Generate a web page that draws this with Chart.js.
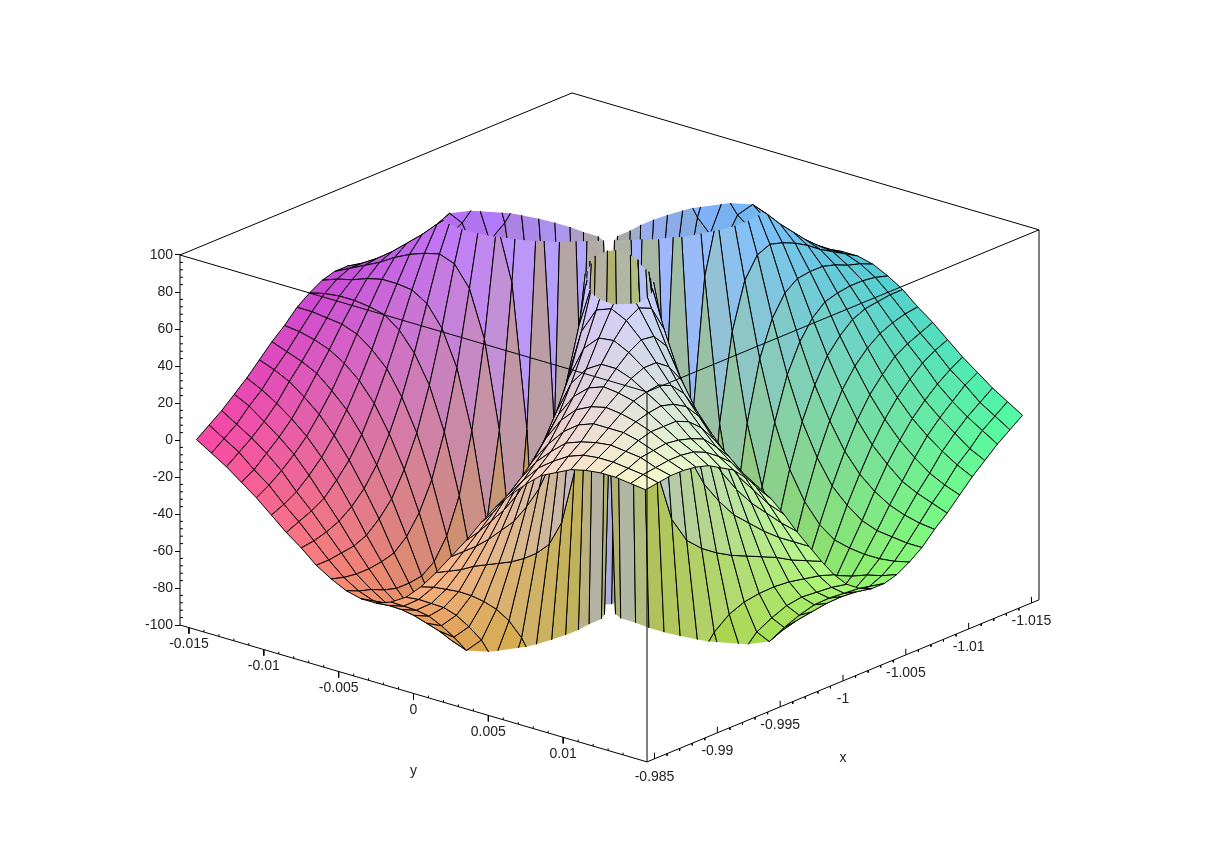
<!DOCTYPE html>
<html>
<head>
<meta charset="utf-8">
<script src="https://cdn.jsdelivr.net/npm/chart.js@4"></script>
<style>
  body { margin: 0; background: #fff; }
  canvas { display: block; }
</style>
</head>
<body>
<canvas id="surface" width="1220" height="855"></canvas>
<script>
// Surface samples: one row per x value, one column per y value
const xValues = [-0.985,-0.986,-0.987,-0.988,-0.989,-0.99,-0.991,-0.992,-0.993,-0.994,-0.995,-0.996,-0.997,-0.998,-0.999,-1,-1.001,-1.002,-1.003,-1.004,-1.005,-1.006,-1.007,-1.008,-1.009,-1.01,-1.011,-1.012,-1.013,-1.014,-1.015];
const yValues = [-0.015,-0.014,-0.013,-0.012,-0.011,-0.01,-0.009,-0.008,-0.007,-0.006,-0.005,-0.004,-0.003,-0.002,-0.001,0,0.001,0.002,0.003,0.004,0.005,0.006,0.007,0.008,0.009,0.01,0.011,0.012,0.013,0.014,0.015];
// Estimated heights. Values past +-100 run off the top or bottom of the box and get cut there.
const zRows = [
  [0,-5,-10,-16,-22,-29,-36,-42,-49,-54,-58,-60,-60,-57,-52,-44,-34,-23,-12,0,11,20,28,35,39,43,45,46,46,45,44],
  [5,0,-5,-12,-18,-26,-33,-41,-49,-56,-61,-64,-64,-62,-56,-47,-36,-23,-10,3,15,25,34,40,45,48,49,49,48,47,45],
  [10,5,0,-6,-13,-22,-30,-39,-48,-57,-63,-68,-69,-67,-61,-51,-38,-23,-7,8,21,32,40,47,50,52,53,52,51,48,46],
  [16,12,6,0,-7,-16,-26,-36,-47,-57,-66,-72,-75,-73,-66,-55,-39,-22,-4,13,28,39,48,54,57,57,57,55,52,49,46],
  [22,18,13,7,0,-9,-19,-31,-44,-56,-68,-77,-82,-81,-73,-60,-41,-20,1,21,37,49,57,61,63,62,60,57,53,49,45],
  [29,26,22,16,9,0,-11,-24,-38,-54,-68,-81,-89,-90,-82,-66,-43,-18,8,30,47,59,66,69,68,66,62,57,52,48,43],
  [36,33,30,26,19,11,0,-14,-30,-48,-67,-84,-97,-100,-92,-73,-45,-13,18,43,61,71,76,76,73,68,63,57,50,45,39],
  [42,41,39,36,31,24,14,0,-17,-38,-62,-86,-104,-113,-106,-82,-46,-6,31,59,77,85,86,82,76,69,61,54,47,40,35],
  [49,49,48,47,44,38,30,17,0,-23,-51,-83,-111,-128,-123,-94,-46,6,51,81,95,98,94,86,76,66,57,48,40,34,28],
  [54,56,57,57,56,54,48,38,23,0,-32,-72,-114,-145,-147,-110,-44,26,79,107,115,110,98,85,71,59,49,39,32,25,20],
  [58,61,63,66,68,68,67,62,51,32,0,-47,-107,-162,-179,-132,-35,60,118,137,132,115,95,77,61,47,37,28,21,15,11],
  [60,64,68,72,77,81,84,86,83,72,47,0,-77,-171,-225,-165,-11,118,169,165,137,107,81,59,43,30,21,13,8,3,0],
  [60,64,69,75,82,89,97,104,111,114,107,77,0,-144,-250,-219,53,214,219,169,118,79,51,31,18,8,1,-4,-7,-10,-12],
  [57,62,67,73,81,90,100,113,128,145,162,171,144,0,-250,-250,237,250,214,118,60,26,6,-6,-13,-18,-20,-22,-23,-23,-23],
  [52,56,61,66,73,82,92,106,123,147,179,225,250,250,0,-250,250,237,53,-11,-35,-44,-46,-46,-45,-43,-41,-39,-38,-36,-34],
  [44,47,51,55,60,66,73,82,94,110,132,165,219,250,250,0,-250,-250,-219,-165,-132,-110,-94,-82,-73,-66,-60,-55,-51,-47,-44],
  [34,36,38,39,41,43,45,46,46,44,35,11,-53,-237,-250,250,0,-250,-250,-225,-179,-147,-123,-106,-92,-82,-73,-66,-61,-56,-52],
  [23,23,23,22,20,18,13,6,-6,-26,-60,-118,-214,-250,-237,250,250,0,-144,-171,-162,-145,-128,-113,-100,-90,-81,-73,-67,-62,-57],
  [12,10,7,4,-1,-8,-18,-31,-51,-79,-118,-169,-219,-214,-53,219,250,144,0,-77,-107,-114,-111,-104,-97,-89,-82,-75,-69,-64,-60],
  [0,-3,-8,-13,-21,-30,-43,-59,-81,-107,-137,-165,-169,-118,11,165,225,171,77,0,-47,-72,-83,-86,-84,-81,-77,-72,-68,-64,-60],
  [-11,-15,-21,-28,-37,-47,-61,-77,-95,-115,-132,-137,-118,-60,35,132,179,162,107,47,0,-32,-51,-62,-67,-68,-68,-66,-63,-61,-58],
  [-20,-25,-32,-39,-49,-59,-71,-85,-98,-110,-115,-107,-79,-26,44,110,147,145,114,72,32,0,-23,-38,-48,-54,-56,-57,-57,-56,-54],
  [-28,-34,-40,-48,-57,-66,-76,-86,-94,-98,-95,-81,-51,-6,46,94,123,128,111,83,51,23,0,-17,-30,-38,-44,-47,-48,-49,-49],
  [-35,-40,-47,-54,-61,-69,-76,-82,-86,-85,-77,-59,-31,6,46,82,106,113,104,86,62,38,17,0,-14,-24,-31,-36,-39,-41,-42],
  [-39,-45,-50,-57,-63,-68,-73,-76,-76,-71,-61,-43,-18,13,45,73,92,100,97,84,67,48,30,14,0,-11,-19,-26,-30,-33,-36],
  [-43,-48,-52,-57,-62,-66,-68,-69,-66,-59,-47,-30,-8,18,43,66,82,90,89,81,68,54,38,24,11,0,-9,-16,-22,-26,-29],
  [-45,-49,-53,-57,-60,-62,-63,-61,-57,-49,-37,-21,-1,20,41,60,73,81,82,77,68,56,44,31,19,9,0,-7,-13,-18,-22],
  [-46,-49,-52,-55,-57,-57,-57,-54,-48,-39,-28,-13,4,22,39,55,66,73,75,72,66,57,47,36,26,16,7,0,-6,-12,-16],
  [-46,-48,-51,-52,-53,-52,-50,-47,-40,-32,-21,-8,7,23,38,51,61,67,69,68,63,57,48,39,30,22,13,6,0,-5,-10],
  [-45,-47,-48,-49,-49,-48,-45,-40,-34,-25,-15,-3,10,23,36,47,56,62,64,64,61,56,49,41,33,26,18,12,5,0,-5],
  [-44,-45,-46,-46,-45,-43,-39,-35,-28,-20,-11,0,12,23,34,44,52,57,60,60,58,54,49,42,36,29,22,16,10,5,0]
];

// Axis ticks
const zTicks = [-100,-80,-60,-40,-20,0,20,40,60,80,100];
const yTicks = [-0.015,-0.01,-0.005,0,0.005,0.01];
const yTickLabels = ['-0.015','-0.01','-0.005','0','0.005','0.01'];
const xTicks = [-0.985,-0.99,-0.995,-1,-1.005,-1.01,-1.015];
const xTickLabels = ['-0.985','-0.99','-0.995','-1','-1.005','-1.01','-1.015'];

// Box limits, a little wider than the surface
const xLow = -1.0156, xHigh = -0.9844;
const yLow = -0.0156, yHigh = 0.0156;
const zLow = -100, zHigh = 100;

// Oblique view: how far one box length along y or x moves a point across the chart
const acrossY = 467 / 859, acrossX = 392 / 859;
const liftY = -74, liftX = 87.6;

function project(x, y, z) {
    const u = (y - yLow) / (yHigh - yLow);
    const v = (xHigh - x) / (xHigh - xLow);
    return { x: u * acrossY + v * acrossX, y: z + u * liftY + v * liftX };
}

// Cut a cell at one z limit. A vertex's cut flag says the edge leaving it lies on the limit.
function cutAt(poly, limit, sign) {
    const out = [];
    poly.forEach((a, i) => {
        const b = poly[(i + 1) % poly.length];
        const aIn = sign * (a.z - limit) <= 0;
        const bIn = sign * (b.z - limit) <= 0;
        if (aIn !== bIn) {
            const t = (limit - a.z) / (b.z - a.z);
            out.push({ x: a.x + t * (b.x - a.x), y: a.y + t * (b.y - a.y), z: limit, cut: aIn ? true : a.cut });
        }
        if (bIn) out.push(b);
    });
    return out;
}

// Colour follows position in the box: red with x, green with y, blue with z
function shade(corners) {
    let x = 0, y = 0, z = 0;
    corners.forEach(c => { x += c.x; y += c.y; z += c.z; });
    x = (x / 4 + 1) * 1000; y = y / 4 * 1000; z /= 4;
    const r = 175 + (x >= 0 ? 5 : 6.33) * x;
    const g = 175 + (y >= 0 ? 5 : 7) * y;
    const b = 165 + 0.85 * z;
    const lim = v => Math.round(Math.max(0, Math.min(255, v)));
    return `rgb(${lim(r)},${lim(g)},${lim(b)})`;
}

function surfaceDatasets() {
    const cells = [];
    for (let i = 0; i < xValues.length - 1; i++) {
        for (let j = 0; j < yValues.length - 1; j++) {
            const corners = [[i, j], [i, j + 1], [i + 1, j + 1], [i + 1, j]].map(([a, b]) => (
                { x: xValues[a], y: yValues[b], z: zRows[a][b], cut: false }
            ));
            let poly = cutAt(corners, zHigh, 1);
            poly = cutAt(poly, zLow, -1);
            if (poly.length > 2) cells.push({ near: -i + j, poly, color: shade(corners) });
        }
    }
    // Chart.js paints the first dataset last, so nearest cells go first
    cells.sort((a, b) => b.near - a.near);

    const sets = [];
    cells.forEach(cell => {
        const pts = cell.poly.map(p => project(p.x, p.y, p.z));
        const closed = pts.concat([pts[0]]);
        const hasCut = cell.poly.some(p => p.cut);
        if (hasCut) {
            const edges = [];
            cell.poly.forEach((p, k) => {
                if (p.cut) return;
                edges.push(pts[k], pts[(k + 1) % pts.length], { x: pts[k].x, y: null });
            });
            sets.push({ data: edges, borderColor: '#000', borderWidth: 1, fill: false, clip: false });
        }
        sets.push({
            data: closed,
            fill: 'shape',
            backgroundColor: cell.color,
            borderColor: hasCut ? 'rgba(0,0,0,0)' : '#000',
            borderWidth: hasCut ? 0 : 1,
            clip: false
        });
    });
    return sets;
}

// Box edges plus the minor and major tick marks, as broken lines
function frameDataset() {
    const pts = [];
    const seg = (a, b) => pts.push(a, b, { x: a.x, y: null });
    const c = (x, y, z) => project(x, y, z);
    seg(c(xHigh, yLow, zHigh), c(xLow, yLow, zHigh));
    seg(c(xLow, yLow, zHigh), c(xLow, yHigh, zHigh));
    seg(c(xLow, yHigh, zHigh), c(xHigh, yHigh, zHigh));
    seg(c(xHigh, yHigh, zHigh), c(xHigh, yLow, zHigh));
    seg(c(xHigh, yLow, zLow), c(xHigh, yLow, zHigh));
    seg(c(xHigh, yHigh, zLow), c(xHigh, yHigh, zHigh));
    seg(c(xLow, yHigh, zLow), c(xLow, yHigh, zHigh));
    seg(c(xHigh, yLow, zLow), c(xHigh, yHigh, zLow));
    seg(c(xHigh, yHigh, zLow), c(xLow, yHigh, zLow));

    // y axis ticks hang below the line, x axis ticks stand above it
    yTicks.forEach(t => seg(c(xHigh, t, zLow), c(xHigh, t, zLow - 3.3)));
    xTicks.forEach(t => seg(c(t, yHigh, zLow), c(t, yHigh, zLow + 3.3)));
    for (let k = -15; k <= 15; k++) {
        const yt = k / 1000, xt = -1 + k / 1000;
        if (k % 5 !== 0) {
            seg(c(xHigh, yt, zLow), c(xHigh, yt, zLow + 1.2));
            seg(c(xt, yHigh, zLow), c(xt, yHigh, zLow - 1.2));
        }
    }
    // Minor ticks on the z axis sit on the inner side
    for (let z = zLow; z <= zHigh; z += 4) {
        if (z % 20 !== 0) pts.push({ x: 0, y: z }, { x: 3 / 859, y: z }, { x: 0, y: null });
    }
    return { data: pts, borderColor: '#000', borderWidth: 1, fill: false, clip: false };
}

// Tick labels for the two slanted axes
const slantedLabels = {
    id: 'slantedLabels',
    afterDraw(chart) {
        const { ctx, scales } = chart;
        const put = (p, text, dy) => {
            ctx.fillText(text, scales.x.getPixelForValue(p.x), scales.y.getPixelForValue(p.y) + dy);
        };
        ctx.save();
        ctx.font = '14px "Liberation Sans", Arial, sans-serif';
        ctx.fillStyle = '#222';
        ctx.textAlign = 'center';
        ctx.textBaseline = 'middle';
        yTicks.forEach((t, i) => put(project(xHigh, t, zLow), yTickLabels[i], 17));
        xTicks.forEach((t, i) => put(project(t, yHigh, zLow), xTickLabels[i], 18));
        put(project(xHigh, 0, zLow), 'y', 78);
        put(project(-1, yHigh, zLow), 'x', 77);
        ctx.restore();
    }
};

new Chart(document.getElementById('surface'), {
    type: 'line',
    data: { datasets: [frameDataset()].concat(surfaceDatasets()) },
    plugins: [slantedLabels],
    options: {
        responsive: false,
        animation: false,
        events: [],
        elements: { point: { radius: 0 }, line: { tension: 0 } },
        layout: { padding: { left: 130, right: 181, top: 88.5, bottom: 82 } },
        plugins: { legend: { display: false }, tooltip: { enabled: false } },
        scales: {
            x: { type: 'linear', display: false, min: 0, max: 1 },
            y: {
                type: 'linear',
                min: -180,
                max: 190,
                afterFit: scale => { scale.width = 50; },
                afterBuildTicks: scale => { scale.ticks = zTicks.map(v => ({ value: v })); },
                border: { display: false },
                grid: { drawOnChartArea: false, drawTicks: true, tickLength: 5, color: '#000' },
                ticks: {
                    autoSkip: false,
                    padding: 2,
                    color: '#222',
                    font: { family: '"Liberation Sans", Arial, sans-serif', size: 14 },
                    callback: v => String(v)
                }
            }
        }
    }
});
</script>
</body>
</html>
